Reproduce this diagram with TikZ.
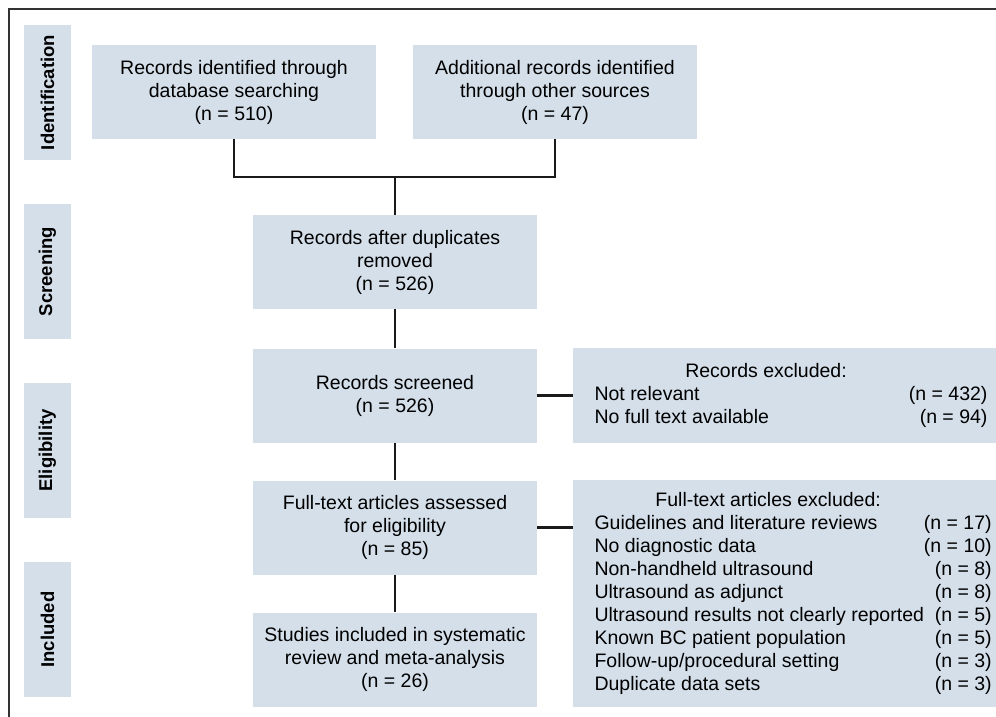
\documentclass[tikz,border=0pt]{standalone}
\usepackage{fontspec}
\setmainfont{Liberation Sans}
\definecolor{boxblue}{RGB}{212,223,234}
\definecolor{linegray}{RGB}{26,26,26}

\begin{document}
\begin{tikzpicture}[x=1pt, y=-1pt,
    flowbox/.style={fill=boxblue, minimum width=284pt, minimum height=94pt,
        align=center, inner sep=0pt, font=\fontsize{19.5}{23}\selectfont},
    stagebox/.style={fill=boxblue, minimum width=135pt, minimum height=47pt,
        rotate=90, inner sep=0pt, font=\fontsize{18.5}{22}\selectfont\bfseries},
    exclbox/.style={fill=boxblue, minimum width=436pt, inner sep=0pt,
        font=\fontsize{19.5}{23}\selectfont},
    link/.style={line width=2.4pt, draw=linegray}]
\useasboundingbox (0,0) rectangle (996,717);
\clip (0,0) rectangle (996,717);
\draw[line width=1.5pt, draw=black!80] (9,9) rectangle (1010,730);

%stage labels
\node[stagebox](ident_lab)at(47.5,92.5){Identification};
\node[stagebox](screen_lab)at(47.5,271.5){Screening};
\node[stagebox](elig_lab)at(47.5,450.5){Eligibility};
\node[stagebox](incl_lab)at(47.5,629.5){Included};

%main flow
\node[flowbox](db_rec)at(234,92){Records identified through\\database searching\\(n = 510)};
\node[flowbox](other_rec)at(555,92){Additional records identified\\through other sources\\(n = 47)};
\node[flowbox](dup_rec)at(395,262){Records after duplicates\\removed\\(n = 526)};
\node[flowbox](screen_rec)at(395,395.5){Records screened\\(n = 526)};
\node[flowbox](full_rec)at(395,527.5){Full-text articles assessed\\for eligibility\\(n = 85)};
\node[flowbox](incl_rec)at(395,659.5){Studies included in systematic\\review and meta-analysis\\(n = 26)};

%exclusions
\node[exclbox, minimum height=95pt](excl_rec)at(791,395.5){%
    \begin{tabular*}{393pt}{@{}l@{\extracolsep{\fill}}r@{}}
    \multicolumn{2}{@{}c@{\hspace{50pt}}}{Records excluded:}\\
    Not relevant & (n = 432)\\
    No full text available & (n = 94)
    \end{tabular*}};
\node[exclbox, minimum height=227pt](excl_full)at(791,593.5){%
    \begin{tabular*}{393pt}{@{}l@{\extracolsep{\fill}}r@{}}
    \multicolumn{2}{@{}c@{\hspace{50pt}}}{Full-text articles excluded:}\\
    Guidelines and literature reviews & (n = 17)\\
    No diagnostic data & (n = 10)\\
    Non-handheld ultrasound & (n = 8)\\
    Ultrasound as adjunct & (n = 8)\\
    Ultrasound results not clearly reported & (n = 5)\\
    Known BC patient population & (n = 5)\\
    Follow-up/procedural setting & (n = 3)\\
    Duplicate data sets & (n = 3)
    \end{tabular*}};

%connectors
\coordinate (merge) at (395,177);
\draw[link] (db_rec.south) |- (merge) -| (other_rec.south);
\draw[link] (merge) -- (dup_rec.north);
\draw[link] (dup_rec) -- (screen_rec);
\draw[link] (screen_rec) -- (full_rec);
\draw[link] (full_rec) -- (incl_rec);
\draw[link] (screen_rec.east) -- (screen_rec.east -| excl_rec.west);
\draw[link] (full_rec.east) -- (full_rec.east -| excl_full.west);
\end{tikzpicture}
\end{document}
